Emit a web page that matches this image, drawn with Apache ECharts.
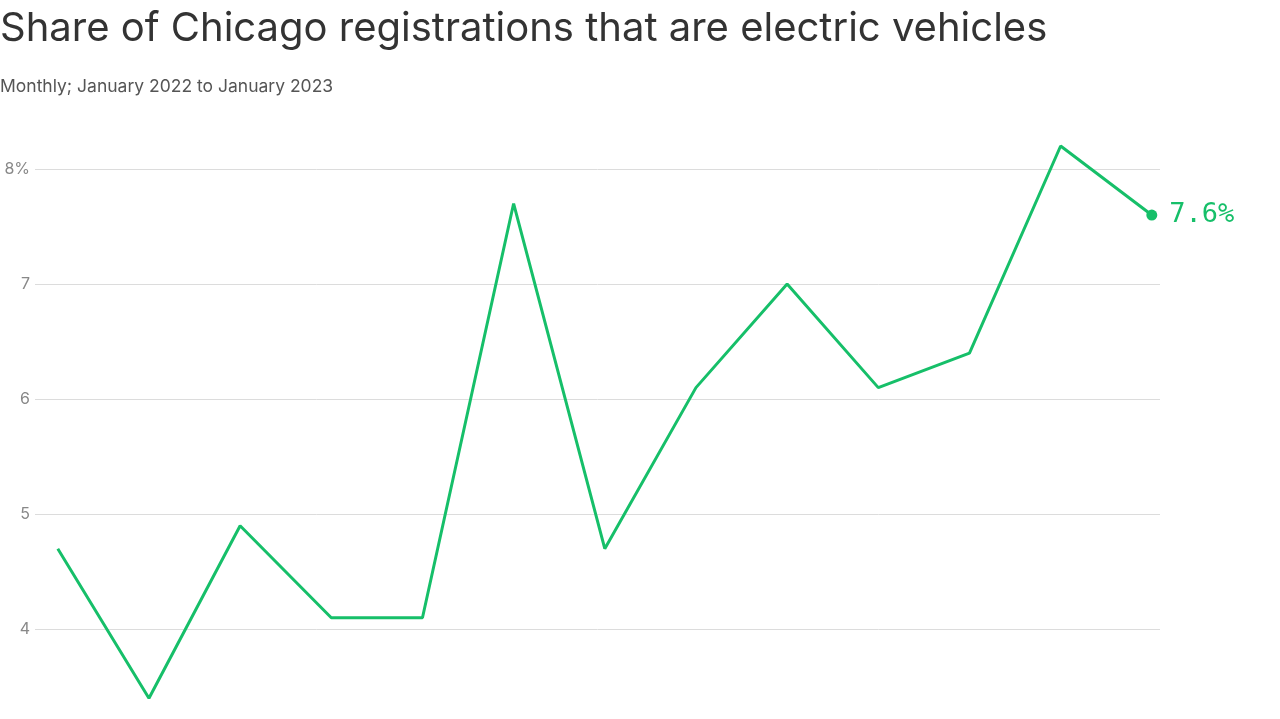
<!DOCTYPE html>
<html><head><meta charset="utf-8">
<script src="https://cdn.jsdelivr.net/npm/echarts@6/dist/echarts.min.js"></script>
<style>html,body{margin:0;padding:0;background:#fff}#c{width:1280px;height:719px}</style>
</head><body><div id="c"></div>
<script>
const months = ['Jan 2022','Feb 2022','Mar 2022','Apr 2022','May 2022','Jun 2022','Jul 2022','Aug 2022','Sep 2022','Oct 2022','Nov 2022','Dec 2022','Jan 2023'];
const evShare = [4.7, 3.4, 4.9, 4.1, 4.1, 7.7, 4.7, 6.1, 7.0, 6.1, 6.4, 8.2, 7.6];
const yTicks = [4, 5, 6, 7, 8];
const titleText = 'Share of Chicago registrations that are electric vehicles';
const subtitleText = 'Monthly; January 2022 to January 2023';
const green = '#16bf69';

const chart = echarts.init(document.getElementById('c'));
const last = evShare.length - 1;
chart.setOption({
  animation: false,
  title: [
    {text: titleText, left: 0, top: 9, padding: 0, textStyle: {fontFamily: 'Inter', fontSize: 40, fontWeight: 'normal', color: '#333'}},
    {text: subtitleText, left: 0, top: 78, padding: 0, textStyle: {fontFamily: 'Inter', fontSize: 17.5, fontWeight: 'normal', color: '#555'}}
  ],
  grid: {left: 35, right: 120, top: 123, bottom: 0, containLabel: false, outerBoundsMode: 'none'},
  xAxis: {type: 'value', min: -0.25, max: 12.09, show: false},
  yAxis: {
    type: 'value', min: 3.22, max: 8.4, splitNumber: 5,
    axisLine: {show: false}, axisTick: {show: false},
    splitLine: {show: true, showMinLine: false, showMaxLine: false, lineStyle: {color: '#dcdcdc', width: 1}},
    axisLabel: {
      showMinLabel: false, showMaxLabel: false, margin: 5,
      color: '#888', fontFamily: 'Inter', fontSize: 16,
      formatter: v => yTicks.indexOf(v) < 0 ? '' : (v === yTicks[yTicks.length - 1] ? v + '%' : String(v))
    }
  },
  series: [{
    type: 'line',
    data: evShare.map((v, i) => ({
      value: [i, v],
      symbol: i === last ? 'circle' : 'none',
      symbolSize: 11,
      label: i === last ? {show: true, position: 'right', distance: 12, formatter: v.toFixed(1) + '%', color: green, fontFamily: 'DejaVu Sans Mono', fontSize: 27} : {show: false}
    })),
    lineStyle: {color: green, width: 3},
    itemStyle: {color: green},
    clip: false
  }]
});
</script></body></html>
